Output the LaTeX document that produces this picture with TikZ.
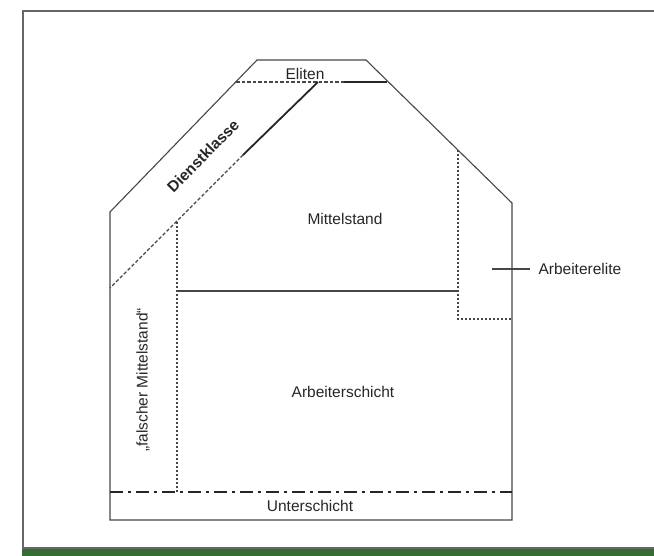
\documentclass[tikz,border=0pt]{standalone}
\usepackage{fontspec}
\setmainfont{Liberation Sans}
\usetikzlibrary{calc}

\definecolor{barGreen}{RGB}{51,109,52}
\definecolor{lineGray}{RGB}{70,70,70}

\begin{document}
\begin{tikzpicture}[
                    x = 1pt, y = -1pt, % pixel grid, y runs down
                    line width = 1.1pt, % line style
                    font = \fontsize{15.5}{18}\selectfont
            ]

            \tikzstyle{wall}=[
                draw = lineGray
            ]
            \tikzstyle{split}=[
                draw = lineGray,
                dash pattern = on 3.5pt off 2pt
            ]
            \tikzstyle{dotline}=[
                draw = lineGray,
                line width = 1.3pt,
                dash pattern = on 2pt off 2pt
            ]
            \tikzstyle{strong}=[
                draw = black!85,
                line width = 1.8pt
            ]
            \tikzstyle{bottomline}=[
                draw = black!85,
                line width = 1.6pt,
                dash pattern = on 13pt off 5pt on 3pt off 5pt
            ]
            \tikzstyle{label}=[
                inner sep = 1pt,
                text = black!85
            ]

            \useasboundingbox (0,0) rectangle (654,556);

            % frame and bar
            \fill[barGreen] (22,548) rectangle (654,556);
            \draw[gray!80!black, line width = 1.6pt] (23,548) -- (23,11) -- (654,11);
            \draw[gray!80!black, line width = 1.2pt] (22,548) -- (654,548);

            % house corners
            \coordinate (L2) at (110,520);
            \coordinate (L1) at (110,212);
            \coordinate (T1) at (257,60);
            \coordinate (T2) at (366,60);
            \coordinate (R1) at (512,203);
            \coordinate (R2) at (512,520);

            \coordinate (E1) at (236,82);
            \coordinate (E2) at (344,82);
            \coordinate (E3) at (387,82);
            \coordinate (D1) at (318,82);
            \coordinate (D2) at (243,155);
            \coordinate (D3) at (110,288);
            \coordinate (F1) at (177,222);
            \coordinate (F2) at (177,492);
            \coordinate (M1) at (177,291);
            \coordinate (M2) at (458,291);
            \coordinate (W1) at (458,150);
            \coordinate (W2) at (458,319);
            \coordinate (W3) at (512,319);
            \coordinate (U1) at (110,492);
            \coordinate (U2) at (512,492);
            \coordinate (K1) at (492,269);
            \coordinate (K2) at (530,269);

            \draw[wall] (L2) -- (L1) -- (T1) -- (T2) -- (R1) -- (R2) -- cycle;

            \draw[split] (E1) -- (E2);
            \draw[strong] (E2) -- (E3);
            \draw[strong] (D1) -- (D2);
            \draw[split] (D2) -- (D3);
            \draw[dotline] (F1) -- (F2);
            \draw[wall] (M1) -- (M2);
            \draw[dotline] (W1) -- (W2) -- (W3);
            \draw[bottomline] (U1) -- (U2);
            \draw[wall] (K1) -- (K2);

            \node[label] (EL) at (305,74) {Eliten};
            \node[label, rotate = 45.5, font = \fontsize{15.5}{18}\selectfont\bfseries] (DK) at (203,156) {Dienstklasse};
            \node[label] (MS) at (345,219) {Mittelstand};
            \node[label, anchor = west] (AE) at (537,269) {Arbeiterelite};
            \node[label] (AS) at (343,392) {Arbeiterschicht};
            \node[label, rotate = 90] (FM) at (143,380) {„falscher Mittelstand“};
            \node[label] (US) at (310,506) {Unterschicht};
        \end{tikzpicture}
\end{document}
